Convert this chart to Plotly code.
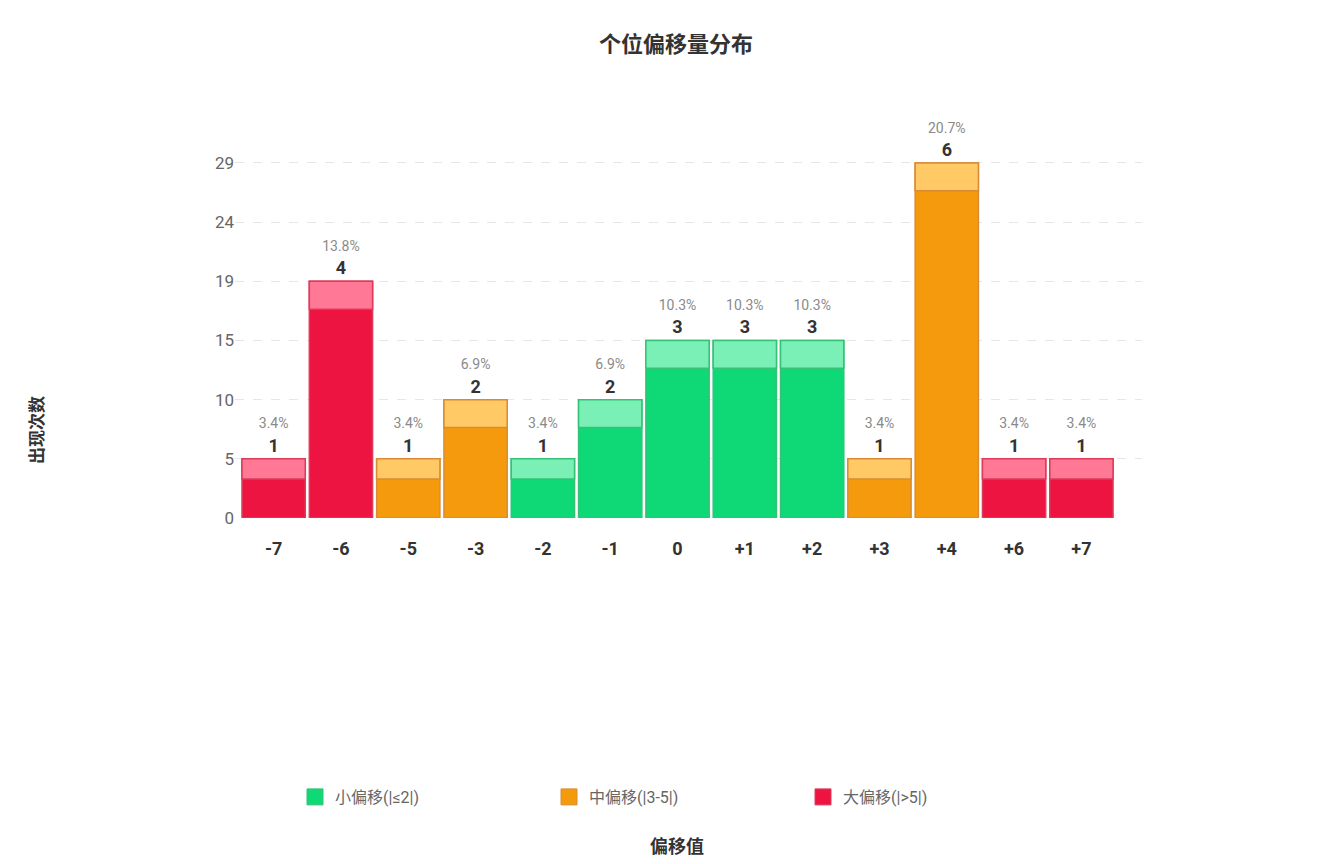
import plotly.graph_objects as go

# ---- data ----
categories = ["-7", "-6", "-5", "-3", "-2", "-1", "0", "+1", "+2", "+3", "+4", "+6", "+7"]
counts = [1, 4, 1, 2, 1, 2, 3, 3, 3, 1, 6, 1, 1]
groups = ["大", "大", "中", "中", "小", "小", "小", "小", "小", "中", "中", "大", "大"]
y_tick_vals = [0, 1, 2, 3, 4, 5, 6]
y_tick_text = ["0", "5", "10", "15", "19", "24", "29"]

group_names = {"小": "小偏移(|≤2|)", "中": "中偏移(|3-5|)", "大": "大偏移(|>5|)"}
group_order = ["小", "中", "大"]

styles = {
    "小": dict(fill="#0fd877", band="#7af0b6", line="#35c276"),
    "中": dict(fill="#f59a0c", band="#ffc965", line="#d98c35"),
    "大": dict(fill="#ee1442", band="#ff7896", line="#dc3c5a"),
}

total = sum(counts)
FONT = "Roboto, 'Noto Sans CJK SC', sans-serif"
CJK = "'Noto Sans CJK SC', sans-serif"

PL, PR, PT, PB = 235, 1142, 100, 518
PW, PH = PR - PL, PB - PT

fig = go.Figure()

for g in group_order:
    xs = [c for c, gg in zip(categories, groups) if gg == g]
    ys = [v for v, gg in zip(counts, groups) if gg == g]
    texts = [
        f"<span style='color:#8a8a8a;font-size:14px;font-weight:normal'>{v / total * 100:.1f}%</span><br><b>{v}</b>"
        for v in ys
    ]
    st = styles[g]
    fig.add_trace(go.Bar(
        x=xs, y=ys, name=group_names[g], showlegend=False,
        marker=dict(color=st["fill"], line=dict(color=st["line"], width=1.5)),
        text=texts, textposition="outside", cliponaxis=False,
        textfont=dict(family=FONT, size=18, color="#333333"),
        offsetgroup="a", hoverinfo="x+y",
    ))
    band = [min(0.47, v * 0.34) for v in ys]
    fig.add_trace(go.Bar(
        x=xs, y=band, base=[v - b for v, b in zip(ys, band)], showlegend=False,
        marker=dict(color=st["band"], line=dict(color=st["line"], width=1.5)),
        offsetgroup="a", hoverinfo="skip",
    ))
    fig.add_trace(go.Scatter(
        x=[None], y=[None], mode="markers", name=group_names[g],
        marker=dict(symbol="square", size=22, color=st["fill"], line=dict(color=st["line"], width=1)),
    ))

fig.update_layout(
    width=1324, height=864,
    paper_bgcolor="white", plot_bgcolor="white",
    margin=dict(l=PL, r=1324 - PR, t=PT, b=864 - PB),
    barmode="overlay", bargap=0.06,
    font=dict(family=FONT, color="#333333"),
    title=dict(
        text="<b>个位偏移量分布</b>", x=676 / 1324, xanchor="center",
        y=1 - 44 / 864, yanchor="middle",
        font=dict(family=CJK, size=22, color="#333333"),
    ),
    legend=dict(
        orientation="h", x=(295 - PL) / PW, xanchor="left",
        y=(PB - 797) / PH, yanchor="middle",
        font=dict(family=FONT, size=16, color="#666666"),
        entrywidth=209, itemclick=False,
    ),
    showlegend=True,
    annotations=[
        dict(text="<b>偏移值</b>", xref="paper", yref="paper",
             x=(677 - PL) / PW, y=(PB - 845) / PH, xanchor="center", yanchor="middle",
             showarrow=False, font=dict(family=CJK, size=18, color="#333333")),
        dict(text="<b>出现次数</b>", xref="paper", yref="paper", textangle=-90,
             x=(35 - PL) / PW, y=(PB - 430) / PH, xanchor="center", yanchor="middle",
             showarrow=False, font=dict(family=CJK, size=17, color="#333333")),
    ],
)

fig.update_xaxes(
    type="category", categoryorder="array", categoryarray=categories,
    range=[-0.574, 12.9],
    showgrid=False, showline=False, zeroline=False, ticks="",
    ticklabelstandoff=18,
    tickfont=dict(family=FONT, size=18, color="#333333", weight="bold"),
    automargin=False,
)
fig.update_yaxes(
    range=[0, PH / 59.17],
    tickvals=y_tick_vals, ticktext=y_tick_text,
    showgrid=True, gridcolor="#e6e6e6", griddash="dash", gridwidth=1,
    zeroline=False, showline=False, ticks="",
    tickfont=dict(family=FONT, size=17, color="#666666"),
    automargin=False,
)

fig.write_html("out.html")
